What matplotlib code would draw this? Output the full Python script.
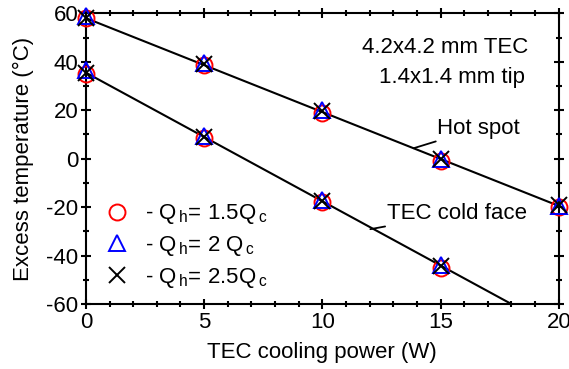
import matplotlib
matplotlib.use('Agg')
import matplotlib.pyplot as plt
from matplotlib.ticker import MultipleLocator

plt.rcParams['font.family'] = ['Liberation Sans', 'DejaVu Sans']
plt.rcParams['mathtext.fontset'] = 'custom'
plt.rcParams['mathtext.rm'] = 'Liberation Sans'
plt.rcParams['mathtext.default'] = 'regular'
plt.rcParams['axes.unicode_minus'] = False

# TEC cooling power (W)
power_hot = [0, 5, 10, 15, 20]
power_cold = [0, 5, 10, 15]

# hot spot excess temperature for each Qh/Qc ratio
hot_15 = [58, 38.5, 19, -1, -20]
hot_20 = [59, 39.5, 20, 0, -19.5]
hot_25 = [58, 39, 19.5, 0, -19]

# TEC cold face excess temperature
cold_15 = [35, 8.5, -18, -45]
cold_20 = [36.5, 9.5, -17, -44]
cold_25 = [35.5, 9, -17.5, -44.5]

# fitted lines (end points)
hot_fit_x = [0, 20]
hot_fit_y = [58, -19.5]
cold_fit_x = [0, 18]
cold_fit_y = [35.5, -60]

labels = [r'- Q$_{\,h}$= 1.5Q$_{\,c}$', r'- Q$_{\,h}$= 2 Q$_{\,c}$', r'- Q$_{\,h}$= 2.5Q$_{\,c}$']

fs = 16

fig = plt.figure(figsize=(5.69, 3.69), dpi=100)
ax = fig.add_axes([0.151, 0.176, 0.831, 0.788])

ax.plot(hot_fit_x, hot_fit_y, color='black', lw=1.5, zorder=2)
ax.plot(cold_fit_x, cold_fit_y, color='black', lw=1.5, zorder=2)

ms = 11.5
kw = dict(ms=ms, mew=1.4, clip_on=False, ls='none')
h1, = ax.plot(power_hot, hot_15, 'o', mfc='none', mec='red', label=labels[0], zorder=3, **kw)
ax.plot(power_cold, cold_15, 'o', mfc='none', mec='red', zorder=3, **kw)
h2, = ax.plot(power_hot, hot_20, '^', mfc='none', mec='blue', label=labels[1], zorder=4, **kw)
ax.plot(power_cold, cold_20, '^', mfc='none', mec='blue', zorder=4, **kw)
h3, = ax.plot(power_hot, hot_25, 'x', color='black', label=labels[2], zorder=5, **kw)
ax.plot(power_cold, cold_25, 'x', color='black', zorder=5, **kw)

ax.set_xlim(0, 20)
ax.set_ylim(-60, 60)
ax.xaxis.set_major_locator(MultipleLocator(5))
ax.xaxis.set_minor_locator(MultipleLocator(1))
ax.yaxis.set_major_locator(MultipleLocator(20))
ax.yaxis.set_minor_locator(MultipleLocator(10))
ax.tick_params(which='both', direction='inout', top=True, right=True, width=1.5, labelsize=fs, pad=2)
ax.tick_params(which='major', length=7)
ax.tick_params(which='minor', length=4)
for s in ax.spines.values():
    s.set_linewidth(1.5)
ax.set_xlabel('TEC cooling power (W)', fontsize=fs, labelpad=7)
ax.set_ylabel('Excess temperature (°C)', fontsize=fs, labelpad=9)

ax.text(18.7, 46, '4.2x4.2 mm TEC', fontsize=fs, ha='right', va='center')
ax.text(18.56, 33.6, '1.4x1.4 mm tip', fontsize=fs, ha='right', va='center')
ax.annotate('Hot spot', xy=(13.86, 4.3), xytext=(14.87, 12.6), fontsize=fs,
            va='center', ha='left', arrowprops=dict(arrowstyle='-', color='black', lw=1.3, shrinkA=0, shrinkB=0))
ax.annotate('TEC cold face', xy=(12.03, -29.1), xytext=(12.75, -22.5), fontsize=fs,
            va='center', ha='left', arrowprops=dict(arrowstyle='-', color='black', lw=1.3, shrinkA=0, shrinkB=0))

ax.legend(handles=[h1, h2, h3], loc='upper left', bbox_to_anchor=(0.0085, 0.403), frameon=False,
          fontsize=fs, handlelength=1.0, handletextpad=0.8, labelspacing=0.34, borderpad=0.2)

fig.savefig('out.png', dpi=100)
